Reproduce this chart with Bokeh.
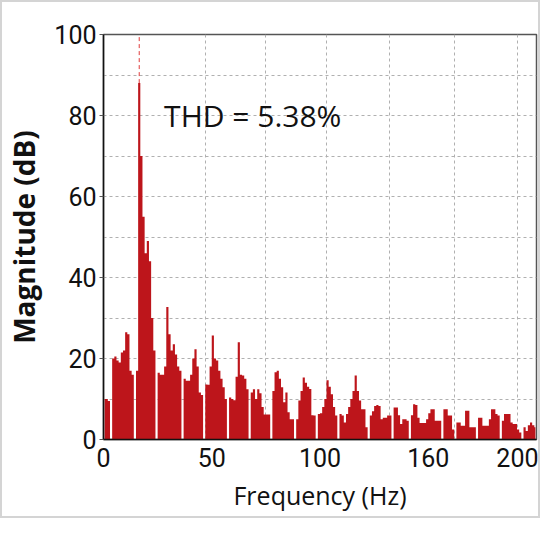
from bokeh.plotting import figure
from bokeh.models import FixedTicker, Range1d, Label
from bokeh.embed import file_html
from bokeh.resources import INLINE

# ---- data ----
freq_hz = list(range(200))  # 1-Hz bins, bin i covers [i, i+1)
magnitude_db = [
    10, 10, 9.5, 0, 20, 20.5, 19.5, 19, 21.5, 22,
    26.5, 26, 17, 16, 0, 17, 88, 70, 55, 46,
    49, 44, 30, 22, 0, 16.5, 16, 16, 18, 32.7,
    26, 22, 23.5, 21, 18, 17, 0, 15, 14.5, 14.5,
    16, 20, 22.3, 18, 11.6, 11, 0, 13.6, 13.5, 18,
    25.7, 20, 19.5, 17, 15, 12.9, 10, 0, 10.4, 10,
    9.7, 15.5, 24, 16, 15.8, 15, 12.4, 0, 11.6, 12.4,
    10, 12.4, 11.4, 8, 6.2, 6.2, 6.2, 0, 12, 16.6,
    17, 15, 12.9, 9.2, 11.6, 6.7, 5, 5, 0, 5,
    9.6, 12, 15.3, 14, 13, 12.5, 6, 5.9, 0, 6.3,
    6.5, 8, 10, 14.6, 13, 11.2, 8, 5.9, 0, 6.3,
    5.9, 4.2, 6.3, 8, 10, 12, 15.8, 12, 9.6, 7.5,
    7.5, 3, 0, 5.9, 7, 8.3, 8.5, 8.3, 5, 5.4,
    5.4, 5.9, 5.9, 0, 7.9, 7.9, 6, 3.8, 5, 5,
    4.6, 0, 6, 8.7, 8.5, 5.4, 4.1, 4.1, 4.1, 5,
    6.5, 7.5, 7.5, 4.6, 4.6, 4.6, 0, 7.5, 7.5, 5.9,
    5.9, 2.5, 0, 4.2, 4.2, 3.4, 3.4, 7.1, 7.1, 3,
    3, 3, 0, 5.4, 5.4, 3.4, 3.4, 3.4, 5, 7.5,
    7.5, 6.3, 5.9, 0, 4.6, 6.3, 6.3, 6.3, 4.2, 3.8,
    3.8, 2.5, 1.7, 0, 3, 2.1, 3.5, 4.2, 3.5, 3,
]
x_ticks = [0, 50, 100, 150, 200]
x_tick_labels = {150: "160"}
y_ticks = [0, 20, 40, 60, 80, 100]
thd_text = "THD = 5.38%"

bin_centers = [f + 0.5 for f in freq_hz]
peak_i = max(range(len(magnitude_db)), key=lambda i: magnitude_db[i])
peak_f = bin_centers[peak_i]
peak_v = magnitude_db[peak_i]

p = figure(width=540, height=518, output_backend="svg", toolbar_location=None,
           x_range=Range1d(0, 200), y_range=Range1d(0, 100),
           min_border_left=95, min_border_right=6, min_border_top=32, min_border_bottom=81)
p.styles = {"border": "2px solid #d4d4d4"}
p.background_fill_color = "white"
p.border_fill_color = "white"
p.outline_line_color = "#555555"
p.outline_line_width = 1.5

# grids
p.ygrid.ticker = FixedTicker(ticks=[10, 20, 30, 40, 50, 60, 70, 80, 90])
p.xgrid.ticker = FixedTicker(ticks=[47, 75, 103, 132, 162, 191])
for g in (p.xgrid, p.ygrid):
    g.grid_line_color = "#b0b0b0"
    g.grid_line_dash = "3 3"
    g.grid_line_width = 1

# spectrum (continuous filled step area)
p.varea_step(x=bin_centers, y1=[0] * len(magnitude_db), y2=magnitude_db,
             step_mode="center", fill_color="#bd151b")

# peak marker
p.segment(x0=[peak_f], y0=[peak_v], x1=[peak_f], y1=[100],
          line_color="#e03c3c", line_dash="4 3", line_width=1)

p.add_layout(Label(x=28, y=80, text=thd_text, text_font="Open Sans",
                   text_font_size="30px", text_color="#111111",
                   text_baseline="alphabetic", text_align="left"))

# axes
p.xaxis.ticker = FixedTicker(ticks=x_ticks)
p.xaxis.major_label_overrides = x_tick_labels
p.yaxis.ticker = FixedTicker(ticks=y_ticks)
for ax in (p.xaxis, p.yaxis):
    ax.axis_line_color = "#111111"
    ax.axis_line_width = 1.5
    ax.minor_tick_line_color = None
    ax.major_label_text_font = "Roboto"
    ax.major_label_text_font_size = "25px"
    ax.major_label_text_color = "#111111"
    ax.axis_label_text_color = "#111111"
    ax.axis_label_text_font_style = "normal"
p.xaxis.major_tick_line_color = None
p.xaxis.major_tick_out = 0
p.xaxis.major_tick_in = 0
p.yaxis.major_tick_in = 0
p.yaxis.major_tick_out = 4
p.yaxis.major_tick_line_color = "#555555"
p.xaxis.major_label_standoff = 8
p.yaxis.major_label_standoff = 3

p.xaxis.axis_label = "Frequency (Hz)"
p.xaxis.axis_label_text_font = "Open Sans"
p.xaxis.axis_label_text_font_size = "25px"
p.xaxis.axis_label_standoff = 8

p.yaxis.axis_label = "Magnitude (dB)"
p.yaxis.axis_label_text_font = "Open Sans"
p.yaxis.axis_label_text_font_style = "bold"
p.yaxis.axis_label_text_font_size = "28px"
p.yaxis.axis_label_standoff = 8

open("out.html", "w").write(file_html(p, INLINE))
